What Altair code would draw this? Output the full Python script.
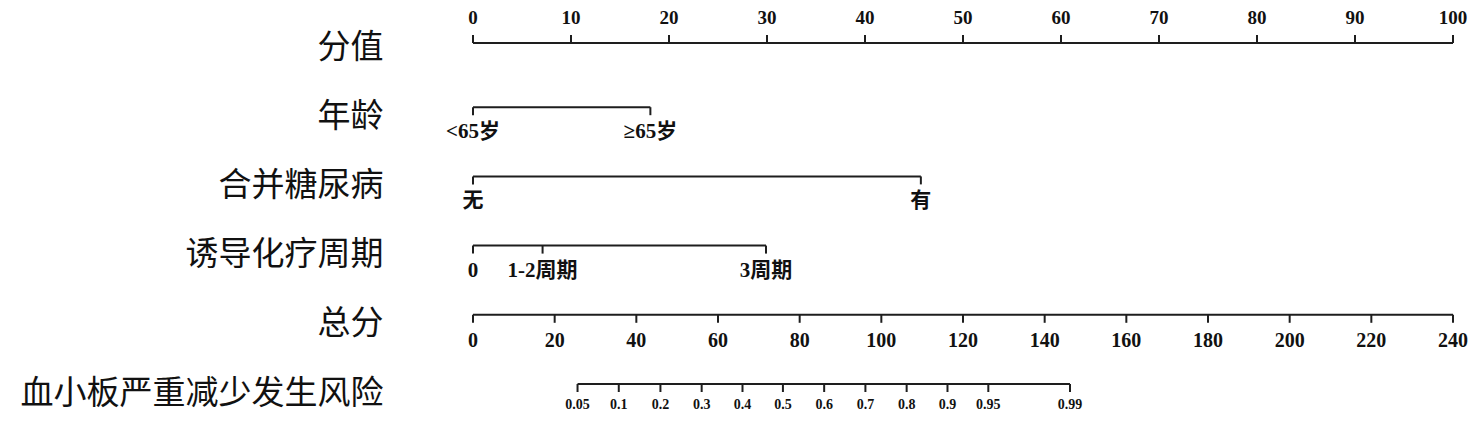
import altair as alt
import pandas as pd

# ---------------- data ----------------
row_labels = ["分值", "年龄", "合并糖尿病", "诱导化疗周期", "总分", "血小板严重减少发生风险"]

points_ticks = [0, 10, 20, 30, 40, 50, 60, 70, 80, 90, 100]

age_levels = ["<65岁", "≥65岁"]
age_points = [0, 18.1]

dm_levels = ["无", "有"]
dm_points = [0, 45.7]

cycle_levels = ["0", "1-2周期", "3周期"]
cycle_points = [0, 7.1, 29.9]

total_ticks = [0, 20, 40, 60, 80, 100, 120, 140, 160, 180, 200, 220, 240]

risk_labels = ["0.05", "0.1", "0.2", "0.3", "0.4", "0.5", "0.6", "0.7", "0.8", "0.9", "0.95", "0.99"]
risk_total_points = [25.6, 35.7, 45.9, 56.0, 66.0, 75.9, 86.0, 96.1, 106.2, 116.2, 126.2, 146.2]

# ---------------- tables built from the lists ----------------
top_seg = pd.DataFrame({"row": [row_labels[0]], "start": [min(points_ticks)], "end": [max(points_ticks)]})
top_ticks = pd.DataFrame({"row": row_labels[0], "value": points_ticks,
                          "label": [str(v) for v in points_ticks]})

var_defs = [(row_labels[1], age_levels, age_points),
            (row_labels[2], dm_levels, dm_points),
            (row_labels[3], cycle_levels, cycle_points)]
var_seg = pd.DataFrame({"row": [r for r, _, _ in var_defs],
                        "start": [min(p) for _, _, p in var_defs],
                        "end": [max(p) for _, _, p in var_defs]})
var_ticks = pd.DataFrame([{"row": r, "value": p, "label": l}
                          for r, levels, pts in var_defs for l, p in zip(levels, pts)])

tot_seg = pd.DataFrame({"row": [row_labels[4], row_labels[5]],
                        "start": [min(total_ticks), min(risk_total_points)],
                        "end": [max(total_ticks), max(risk_total_points)]})
tot_ticks = pd.DataFrame({"row": row_labels[4], "value": total_ticks,
                          "label": [str(v) for v in total_ticks]})
risk_ticks = pd.DataFrame({"row": row_labels[5], "value": risk_total_points, "label": risk_labels})

# ---------------- styling ----------------
INK = "#1e1e1e"
TXT = "#111111"
SERIF = "Liberation Serif, Noto Sans CJK SC, serif"

y_enc = alt.Y(
    "row:N",
    scale=alt.Scale(type="point", domain=row_labels, range=[39, 385], padding=0),
    axis=alt.Axis(title=None, domain=False, ticks=False, grid=False, labelPadding=10,
                  labelFontSize=33, labelFont="Noto Sans CJK SC", labelFontWeight="normal",
                  labelColor=TXT, labelLimit=600),
)

xa = alt.Scale(domain=[0, 100], range=[80, 1060], nice=False, zero=False)
xt = alt.Scale(domain=[0, 240], range=[80, 1060], nice=False, zero=False)


def rule_layer(df, scale, off):
    return alt.Chart(df).mark_rule(yOffset=off, strokeWidth=2, color=INK).encode(
        x=alt.X("start:Q", scale=scale, axis=None), x2="end:Q", y=y_enc)


def tick_layer(df, scale, off):
    return alt.Chart(df).mark_tick(yOffset=off, size=8, thickness=2, color=INK, opacity=1).encode(
        x=alt.X("value:Q", scale=scale, axis=None), y=y_enc)


def text_layer(df, scale, off, size):
    return alt.Chart(df).mark_text(yOffset=off, align="center", baseline="middle", font=SERIF,
                                   fontSize=size, fontWeight="bold", color=TXT).encode(
        x=alt.X("value:Q", scale=scale, axis=None), y=y_enc, text="label:N")


group_points = alt.layer(
    rule_layer(top_seg, xa, -4),
    tick_layer(top_ticks, xa, -8),
    text_layer(top_ticks, xa, -29, 19),
    rule_layer(var_seg, xa, -9),
    tick_layer(var_ticks, xa, -5),
    text_layer(var_ticks, xa, 16, 21),
)

group_total = alt.layer(
    rule_layer(tot_seg, xt, -9),
    tick_layer(tot_ticks, xt, -5),
    text_layer(tot_ticks, xt, 17, 20),
    tick_layer(risk_ticks, xt, -5),
    text_layer(risk_ticks, xt, 12, 14),
)

chart = (
    alt.layer(group_points, group_total)
    .resolve_scale(x="independent")
    .properties(width=1061, height=405,
                autosize=alt.AutoSizeParams(type="none"),
                padding={"left": 385, "top": 0, "right": 15, "bottom": 0})
    .configure_view(stroke=None)
)

chart.save("out.html", embed_options={"renderer": "svg", "actions": False})
